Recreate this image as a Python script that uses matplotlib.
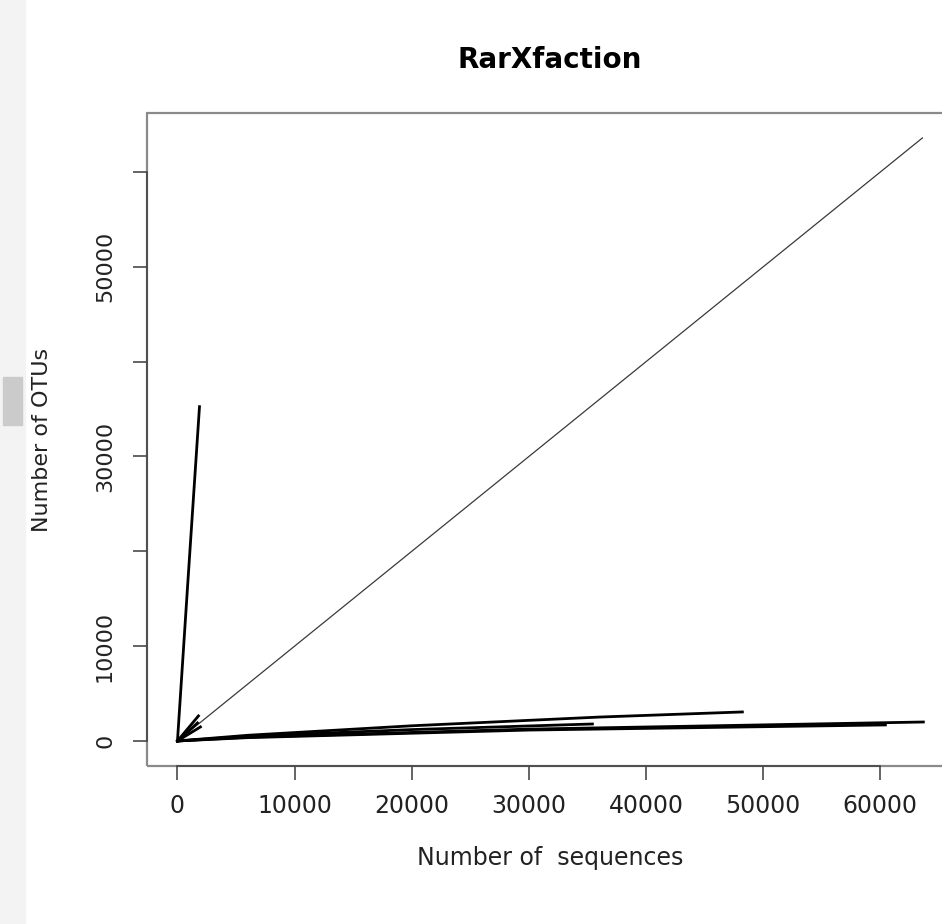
#!/usr/bin/env python3
"""Rarefaction curves (R base graphics look) redrawn with matplotlib."""
import matplotlib
matplotlib.use('Agg')
import matplotlib.pyplot as plt
from matplotlib.patches import Rectangle

# rarefaction curves: (sequences, OTUs)
diag_x = [0, 63590]
diag_y = [0, 63590]

steep_x = [0, 900, 1880]
steep_y = [0, 17000, 35250]

curve_b_x = [0, 6000, 20000, 36000, 48220]
curve_b_y = [0, 600, 1600, 2520, 3060]
curve_c_x = [0, 6000, 20000, 35420]
curve_c_y = [0, 500, 1200, 1790]
curve_d_x = [0, 6000, 30000, 63670]
curve_d_y = [0, 400, 1250, 2000]
curve_e_x = [0, 6000, 30000, 60430]
curve_e_y = [0, 350, 1150, 1690]

short_x = [[0, 1790], [0, 1710], [0, 1960]]
short_y = [[0, 2640], [0, 1900], [0, 1480]]

x_ticks = [0, 10000, 20000, 30000, 40000, 50000, 60000]
y_ticks = [0, 10000, 20000, 30000, 40000, 50000, 60000]
y_tick_labels = ['0', '10000', '', '30000', '', '50000', '']

W, H = 942, 924


def main():
    plt.rcParams['font.family'] = ['DejaVu Sans']
    fig = plt.figure(figsize=(W / 100, H / 100), dpi=100)

    # screenshot leftovers on the left edge
    fig.patches.append(Rectangle((0, 0), 25 / W, 1, transform=fig.transFigure,
                                 color='#f3f3f3', zorder=0))
    fig.patches.append(Rectangle((3 / W, 1 - 425 / H), 19 / W, 48 / H,
                                 transform=fig.transFigure, color='#cbcbcb', zorder=1))

    ax = fig.add_axes([147 / W, 1 - 766 / H, (953 - 147) / W, (766 - 113) / H])
    ax.set_xlim(-2600, 66200)
    ax.set_ylim(-2640, 66220)

    ax.plot(diag_x, diag_y, color='#3a3a3a', lw=0.9)
    lw = 2.0
    ax.plot(steep_x, steep_y, color='black', lw=lw)
    for xs, ys in [(curve_b_x, curve_b_y), (curve_c_x, curve_c_y),
                   (curve_d_x, curve_d_y), (curve_e_x, curve_e_y)]:
        ax.plot(xs, ys, color='black', lw=lw)
    for xs, ys in zip(short_x, short_y):
        ax.plot(xs, ys, color='black', lw=lw)

    # R-style box and axes
    for s in ['top', 'right']:
        ax.spines[s].set_visible(False)
    ax.add_patch(Rectangle((0, 0), 1, 1, transform=ax.transAxes, fill=False,
                           edgecolor='#8a8a8a', lw=1.6, clip_on=False, zorder=0))
    for s in ['left', 'bottom']:
        ax.spines[s].set_color('#4a4a4a')
        ax.spines[s].set_linewidth(1.3)
    ax.spines['left'].set_bounds(0, 60000)
    ax.spines['bottom'].set_bounds(0, 60000)

    ax.set_xticks(x_ticks)
    ax.set_xticklabels([str(v) for v in x_ticks])
    ax.set_yticks(y_ticks)
    ax.set_yticklabels(y_tick_labels, rotation=90, va='center')
    ax.tick_params(axis='both', length=10, width=1.2, color='#4a4a4a',
                   labelcolor='#222222')
    ax.tick_params(axis='x', pad=10, labelsize=17)
    ax.tick_params(axis='y', pad=13, labelsize=16)

    ax.set_xlabel('Number of  sequences', fontsize=17, color='#222222', va='center')
    ax.xaxis.set_label_coords(0.5, (766 - 858) / 653)
    ax.set_ylabel('Number of OTUs', fontsize=16, color='#222222', va='center')
    ax.yaxis.set_label_coords((42 - 147) / 806, 0.5)

    ax.text(0.5, (766 - 60) / 653, 'RarXfaction', transform=ax.transAxes,
            ha='center', va='center', fontsize=20, fontweight='bold')

    fig.savefig('out.png', dpi=100)
    plt.close(fig)


if __name__ == '__main__':
    main()
